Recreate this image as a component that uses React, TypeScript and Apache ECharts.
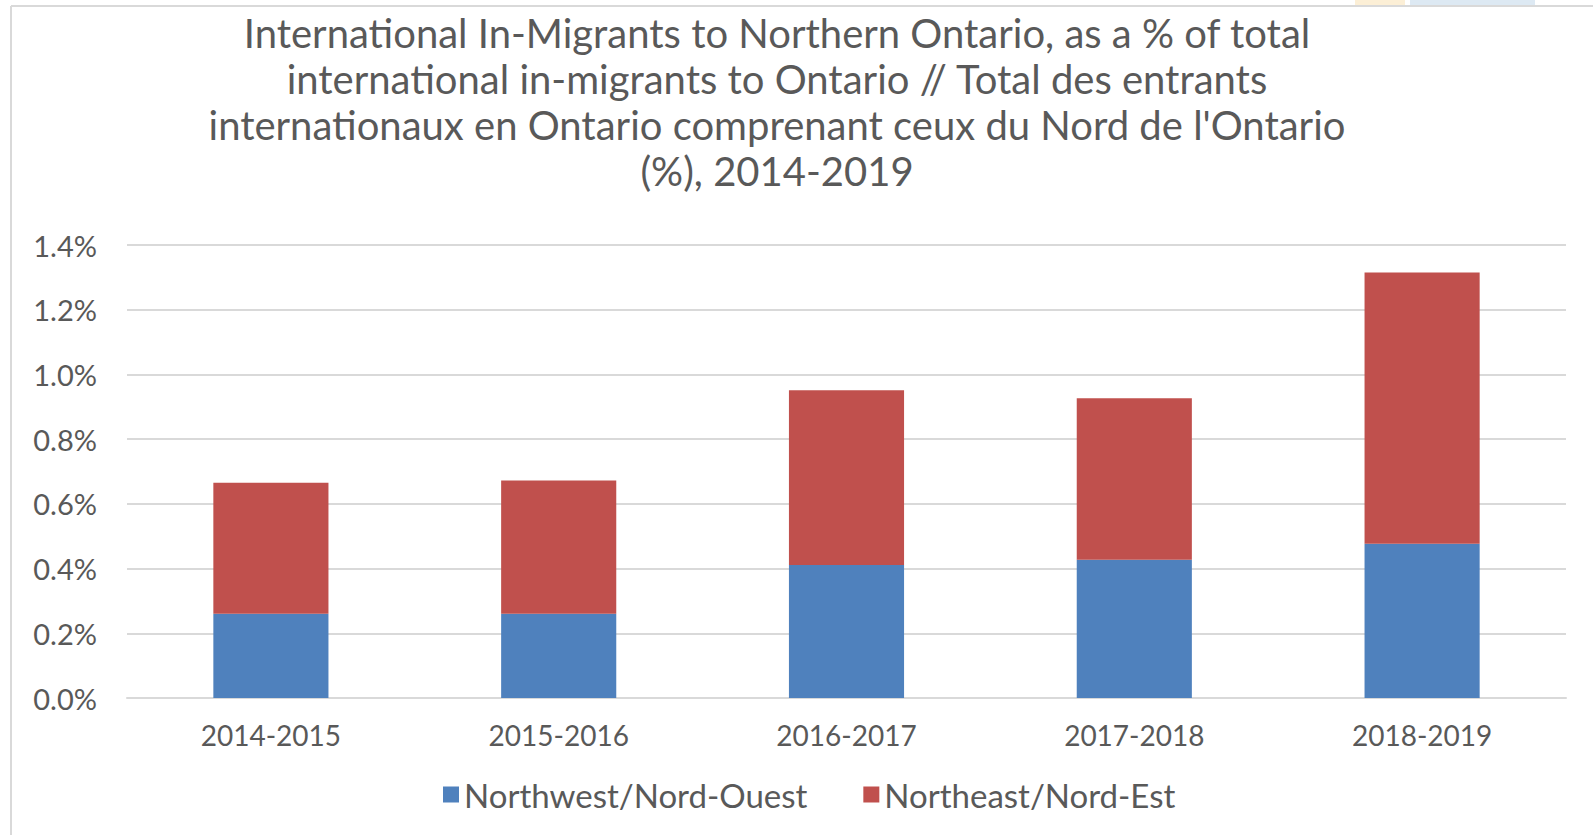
import React, { useEffect, useRef } from "react";
import * as echarts from "echarts";

const categories = ["2014-2015", "2015-2016", "2016-2017", "2017-2018", "2018-2019"];
const northwest = [0.26, 0.26, 0.411, 0.427, 0.477];
const northeast = [0.405, 0.412, 0.54, 0.499, 0.838];
const seriesNames = ["Northwest/Nord-Ouest", "Northeast/Nord-Est"];
const titleLines = [
  "International In-Migrants to Northern Ontario, as a % of total",
  "international in-migrants to Ontario // Total des entrants",
  "internationaux en Ontario comprenant ceux du Nord de l'Ontario",
  "(%), 2014-2019",
];

const FONT = "Lato, 'Noto Sans', sans-serif";
const TEXT = "#595959";

export default function App() {
  const ref = useRef<HTMLDivElement>(null);
  useEffect(() => {
    const chart = echarts.init(ref.current!, null, { renderer: "svg" });
    chart.setOption({
      animation: false,
      backgroundColor: "#ffffff",
      title: {
        text: titleLines.join("\n"),
        left: 772,
        top: 5,
        textAlign: "center",
        textStyle: {
          fontFamily: FONT,
          fontSize: 40,
          fontWeight: "normal",
          color: TEXT,
          lineHeight: 46,
        },
      },
      graphic: [
        { type: "rect", shape: { x: 1355, y: 0, width: 50, height: 5 }, style: { fill: "#FCEFD6" }, silent: true },
        { type: "rect", shape: { x: 1410, y: 0, width: 125, height: 5 }, style: { fill: "#DDE9F3" }, silent: true },
        { type: "line", shape: { x1: 11, y1: 6, x2: 1593, y2: 6 }, style: { stroke: "#D9D9D9", lineWidth: 2 }, silent: true },
        { type: "line", shape: { x1: 11, y1: 6, x2: 11, y2: 835 }, style: { stroke: "#D9D9D9", lineWidth: 2 }, silent: true },
      ],
      legend: {
        data: seriesNames,
        top: 773,
        left: 438,
        itemWidth: 16,
        itemHeight: 16,
        itemGap: 56,
        icon: "rect",
        textStyle: { fontFamily: FONT, fontSize: 33, color: TEXT, padding: [0, 0, 0, 0] },
      },
      grid: { left: 127, right: 27, top: 245, bottom: 137 },
      xAxis: {
        type: "category",
        data: categories,
        axisLine: { lineStyle: { color: "#D9D9D9", width: 2 } },
        axisTick: { show: false },
        axisLabel: { fontFamily: FONT, fontSize: 28, color: TEXT, margin: 23 },
      },
      yAxis: {
        type: "value",
        min: 0,
        max: 1.4,
        interval: 0.2,
        axisLine: { show: false },
        axisTick: { show: false },
        splitLine: { lineStyle: { color: "#D9D9D9", width: 2 } },
        axisLabel: {
          fontFamily: FONT,
          fontSize: 29,
          color: TEXT,
          margin: 30,
          formatter: (v: number) => v.toFixed(1) + "%",
        },
      },
      series: [
        {
          name: seriesNames[0],
          type: "bar",
          stack: "total",
          data: northwest,
          barWidth: "40%",
          itemStyle: { color: "#4F81BD" },
        },
        {
          name: seriesNames[1],
          type: "bar",
          stack: "total",
          data: northeast,
          barWidth: "40%",
          itemStyle: { color: "#C0504D" },
        },
      ],
    });
    return () => chart.dispose();
  }, []);
  return (
    <div
      ref={ref}
      style={{ position: "fixed", left: 0, top: 0, width: 1593, height: 835 }}
    />
  );
}
